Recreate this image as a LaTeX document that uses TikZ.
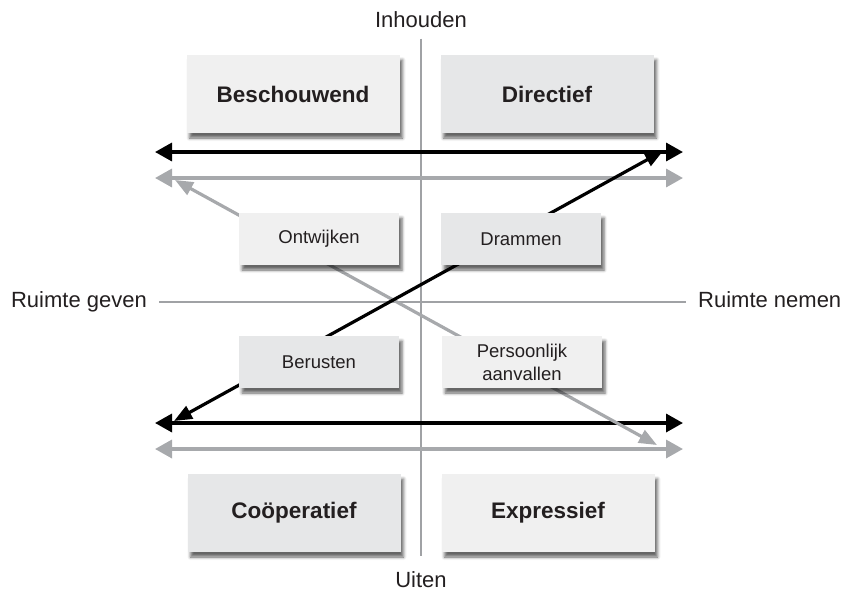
\documentclass[tikz,border=0pt]{standalone}
\usepackage{fontspec}
\setmainfont{Liberation Sans}
\usetikzlibrary{arrows.meta,shadows.blur}
\definecolor{textdark}{HTML}{231F20}
\definecolor{arrowgray}{HTML}{A7A9AC}
\definecolor{axisgray}{HTML}{A0A2A5}
\definecolor{boxlight}{HTML}{F0F0F0}
\definecolor{boxdark}{HTML}{E6E7E8}
\tikzset{
	axislabel/.style = {text=textdark, font=\fontsize{22}{26}\selectfont, text height=16pt, text depth=5pt, inner xsep=12pt, inner ysep=6pt},
	axisline/.style = {draw=axisgray, line width=1.4pt},
	box/.style = {text=textdark, align=center, inner sep=0pt, draw=none,
		blur shadow={shadow xshift=3pt, shadow yshift=-5pt, shadow blur radius=3pt, shadow opacity=60}},
	mainbox/.style = {box, minimum width=213pt, minimum height=78pt, font=\fontsize{22.5}{26}\selectfont\bfseries},
	smallbox/.style = {box, minimum width=160pt, minimum height=52pt, font=\fontsize{18.5}{23}\selectfont},
	blackarrow/.style = {black, line width=3.4pt, {Triangle[length=17pt,width=18pt]}-{Triangle[length=17pt,width=18pt]}},
	grayarrow/.style = {arrowgray, line width=3.4pt, {Triangle[length=17pt,width=18pt]}-{Triangle[length=17pt,width=18pt]}},
	blackdiag/.style = {black, line width=3.2pt, {Triangle[length=18pt,width=14pt]}-{Triangle[length=18pt,width=14pt]}},
	graydiag/.style = {arrowgray, line width=3.2pt, {Triangle[length=18pt,width=14pt]}-{Triangle[length=18pt,width=14pt]}}
}
\begin{document}
\begin{tikzpicture}[x=1pt, y=-1pt]
	\useasboundingbox (0,0) rectangle (846,598);
	% axes
	\node [axislabel] (inhouden) at (421,22) {Inhouden};
	\node [axislabel, inner ysep=15pt] (uiten) at (421,582) {Uiten};
	\node [axislabel, anchor=east] (geven) at (159,302) {Ruimte geven};
	\node [axislabel, anchor=west] (nemen) at (686,302) {Ruimte nemen};
	\draw [axisline] (inhouden) -- (uiten);
	\draw [axisline] (geven) -- (nemen);
	% horizontal arrows
	\foreach \y/\name in {152/a, 178/b, 423/c, 449/d}{
		\coordinate (\name w) at (155,\y);
		\coordinate (\name e) at (683,\y);
	}
	\draw [blackarrow] (aw) -- (ae);
	\draw [grayarrow] (bw) -- (be);
	\draw [blackarrow] (cw) -- (ce);
	\draw [grayarrow] (dw) -- (de);
	% diagonals
	\coordinate (blacklow) at (174,421);
	\coordinate (blackhigh) at (663,151);
	\coordinate (grayhigh) at (175,180);
	\coordinate (graylow) at (657,445);
	\draw [graydiag] (grayhigh) -- (graylow);
	\draw [blackdiag] (blacklow) -- (blackhigh);
	% boxes
	\node [mainbox, fill=boxlight] (beschouwend) at (293,94) {Beschouwend};
	\node [mainbox, fill=boxdark] (directief) at (547,94) {Directief};
	\node [smallbox, fill=boxlight] (ontwijken) at (319,239) {Ontwijken};
	\node [smallbox, fill=boxdark] (drammen) at (521,239) {Drammen};
	\node [smallbox, fill=boxdark] (berusten) at (319,362) {Berusten};
	\node [smallbox, fill=boxlight] (aanvallen) at (522,362) {Persoonlijk\\aanvallen};
	\node [mainbox, fill=boxdark] (cooperatief) at (294,513) {Coöperatief};
	\node [mainbox, fill=boxlight] (expressief) at (548,513) {Expressief};
\end{tikzpicture}
\end{document}
